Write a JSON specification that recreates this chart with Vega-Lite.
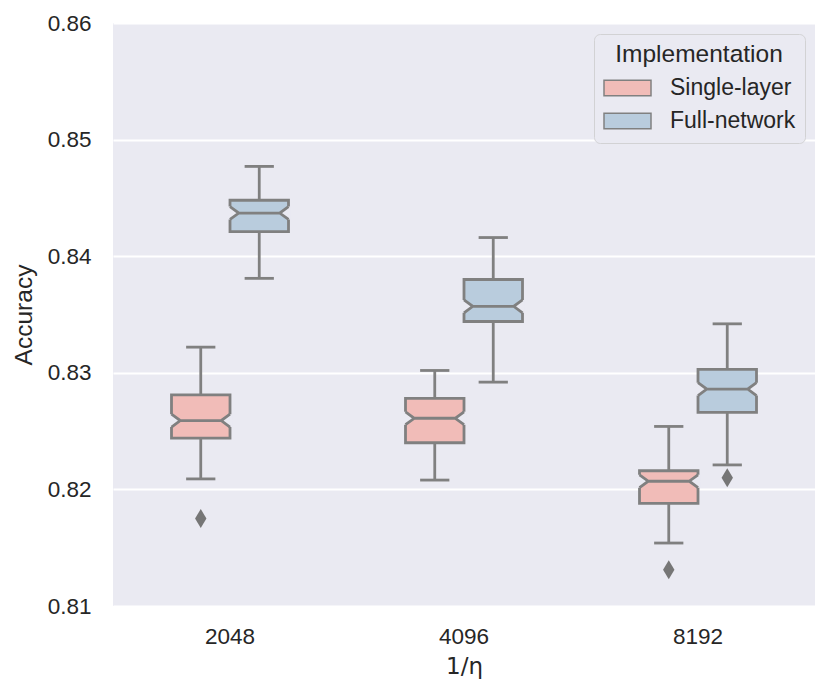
{
  "$schema": "https://vega.github.io/schema/vega-lite/v6.json",
  "width": 702,
  "height": 583,
  "autosize": {"type": "none"},
  "padding": {"left": 113, "top": 23, "right": 16, "bottom": 90},
  "background": "white",
  "config": {
    "font": "Liberation Sans",
    "view": {"fill": "#EAEAF2", "stroke": null},
    "axis": {
      "domain": false,
      "ticks": false,
      "tickSize": 0,
      "labelColor": "#262626",
      "titleColor": "#262626",
      "labelFontSize": 22.5,
      "titleFontSize": 24.5,
      "titleFontWeight": "normal",
      "gridColor": "#FFFFFF",
      "gridWidth": 2
    }
  },
  "datasets": {
    "boxes": [
      {"eta": "2048", "impl": "Single-layer", "lower": 0.8209, "q1": 0.8244, "median": 0.8259, "q3": 0.8281, "upper": 0.8322},
      {"eta": "2048", "impl": "Full-network", "lower": 0.8381, "q1": 0.8421, "median": 0.8437, "q3": 0.8448, "upper": 0.8477},
      {"eta": "4096", "impl": "Single-layer", "lower": 0.8208, "q1": 0.824, "median": 0.8261, "q3": 0.8278, "upper": 0.8302},
      {"eta": "4096", "impl": "Full-network", "lower": 0.8292, "q1": 0.8344, "median": 0.8357, "q3": 0.838, "upper": 0.8416},
      {"eta": "8192", "impl": "Single-layer", "lower": 0.8154, "q1": 0.8188, "median": 0.8207, "q3": 0.8216, "upper": 0.8254},
      {"eta": "8192", "impl": "Full-network", "lower": 0.8221, "q1": 0.8266, "median": 0.8286, "q3": 0.8303, "upper": 0.8342}
    ],
    "outliers": [
      {"eta": "2048", "impl": "Single-layer", "value": 0.8175},
      {"eta": "8192", "impl": "Single-layer", "value": 0.8131},
      {"eta": "8192", "impl": "Full-network", "value": 0.821}
    ]
  },
  "data": {"name": "boxes"},
  "encoding": {
    "x": {
      "field": "eta",
      "type": "nominal",
      "sort": ["2048", "4096", "8192"],
      "scale": {"paddingInner": 0, "paddingOuter": 0},
      "axis": {"labelAngle": 0, "title": "1/η", "titleFont": "DejaVu Sans", "titleFontSize": 23, "labelPadding": 19, "titlePadding": 8, "grid": false}
    },
    "xOffset": {
      "field": "impl",
      "type": "nominal",
      "sort": ["Single-layer", "Full-network"],
      "scale": {"paddingInner": 0, "paddingOuter": 1}
    }
  },
  "layer": [
    {
      "mark": {"type": "rule", "color": "#808080", "strokeWidth": 2.8},
      "encoding": {
        "y": {
          "field": "lower",
          "type": "quantitative",
          "scale": {"domain": [0.81, 0.86], "zero": false, "nice": false},
          "axis": {"title": "Accuracy", "values": [0.81, 0.82, 0.83, 0.84, 0.85, 0.86], "format": ".2f", "labelPadding": 22, "titlePadding": 11, "grid": true}
        },
        "y2": {"field": "upper"}
      }
    },
    {
      "mark": {"type": "tick", "color": "#808080", "thickness": 2.8, "size": 29.25, "opacity": 1},
      "encoding": {"y": {"field": "lower", "type": "quantitative"}}
    },
    {
      "mark": {"type": "tick", "color": "#808080", "thickness": 2.8, "size": 29.25, "opacity": 1},
      "encoding": {"y": {"field": "upper", "type": "quantitative"}}
    },
    {
      "mark": {"type": "bar", "stroke": "#808080", "strokeWidth": 2.8, "opacity": 1},
      "encoding": {
        "y": {"field": "q1", "type": "quantitative"},
        "y2": {"field": "q3"},
        "color": {
          "field": "impl",
          "type": "nominal",
          "scale": {"domain": ["Single-layer", "Full-network"], "range": ["#F1BCB8", "#B9CCDD"]},
          "legend": {
            "orient": "none",
            "legendX": 481,
            "legendY": 11,
            "title": "Implementation",
            "titleFontSize": 24.5,
            "titleFontWeight": "normal",
            "titleColor": "#262626",
            "titleAnchor": "middle",
            "titleAlign": "center",
            "titlePadding": 8,
            "labelFontSize": 23,
            "labelColor": "#262626",
            "labelOffset": 18,
            "symbolType": "M-1,-0.333L1,-0.333L1,0.333L-1,0.333Z",
            "symbolSize": 2209,
            "symbolStrokeColor": "#808080",
            "symbolStrokeWidth": 1.5,
            "symbolOpacity": 1,
            "padding": 9,
            "fillColor": "#EAEAF2",
            "strokeColor": "#D2D2D4",
            "cornerRadius": 6,
            "clipHeight": 25,
            "rowPadding": 8
          }
        }
      }
    },
    {
      "mark": {
        "type": "point",
        "shape": "M-1.07,-0.22L-1,-0.22L-0.7,0L-1,0.22L-1.07,0.22Z M1.07,-0.22L1,-0.22L0.7,0L1,0.22L1.07,0.22Z",
        "size": 3422,
        "filled": true,
        "fill": "#EAEAF2",
        "strokeWidth": 0,
        "opacity": 1
      },
      "encoding": {"y": {"field": "median", "type": "quantitative"}}
    },
    {
      "mark": {
        "type": "point",
        "shape": "M-1,-0.22L-0.7,0L-1,0.22M1,-0.22L0.7,0L1,0.22M-0.7,0L0.7,0",
        "size": 3422,
        "filled": false,
        "stroke": "#808080",
        "strokeWidth": 2.8,
        "opacity": 1
      },
      "encoding": {"y": {"field": "median", "type": "quantitative"}}
    },
    {
      "data": {"name": "outliers"},
      "mark": {"type": "point", "shape": "M0,-1L0.6,0L0,1L-0.6,0Z", "size": 361, "filled": true, "fill": "#767676", "strokeWidth": 0, "opacity": 1},
      "encoding": {"y": {"field": "value", "type": "quantitative"}}
    }
  ]
}
